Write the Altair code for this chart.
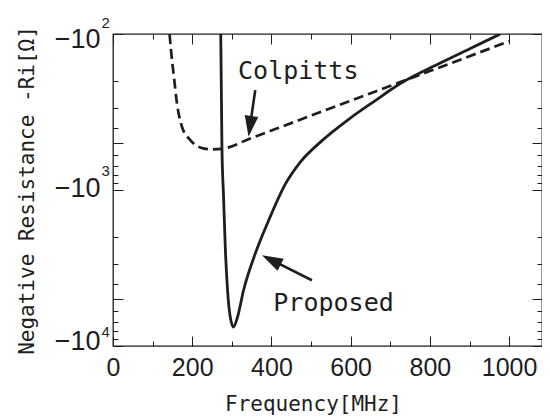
import altair as alt
import pandas as pd

# ---------------- data ----------------
# Proposed oscillator: frequency [MHz] and magnitude of negative resistance |Ri| [Ohm]
prop_f = [272.0, 275.0, 279.1, 283.4, 289.2, 296.0, 304.3, 314.4, 329.6, 356.7,
          392.1, 435.0, 472.9, 523.4, 599.1, 662.2, 725.3, 826.3, 902.0, 977.8]
prop_r = [100, 528.6, 1107, 2316, 4390, 6515, 7552, 6515, 4390, 2658,
          1585, 917.3, 662.7, 493.3, 345.9, 267.1, 207.8, 153.5, 123.9, 100]

# Colpitts oscillator
colp_f = [142.8, 146.4, 154.7, 161.5, 174.1, 195.1, 220.3, 249.8, 278.3,
          346.5, 472.6, 598.8, 725.0, 851.2, 1000]
colp_r = [100, 126.7, 197.3, 278.4, 393.3, 478.7, 533.4, 549.5, 542.9,
          467.7, 354.2, 268.8, 203.5, 154.4, 111.4]

# annotation labels (data coordinates)
ann_text = ["Colpitts", "Proposed"]
ann_f = [467.6, 556.7]
ann_r = [194.4, 5963]

# arrows: tail -> near tip (shaft) and tip
arr_tail_f = [359.1, 502.1]
arr_tail_r = [228.8, 3789]
arr_end_f = [345.6, 398.4]
arr_end_r = [393.9, 2798]
arr_tip_f = [342.2, 376.0]
arr_tip_r = [456.0, 2618]

# axis tick values
x_major = [0, 200, 400, 600, 800, 1000]
x_minor = [100, 300, 500, 700, 900]
y_long = [100, 500, 1000, 5000, 10000]
y_all = [m * d for d in (100, 1000) for m in range(1, 10)] + [10000]

# ---------------- build ----------------
ink = "#1e1e1e"
num_font = "Liberation Sans, Arial, sans-serif"
mono = "DejaVu Sans Mono, Liberation Mono, monospace"

df_prop = pd.DataFrame({"f": prop_f, "r": prop_r})
df_colp = pd.DataFrame({"f": colp_f, "r": colp_r})
df_ann = pd.DataFrame({"label": ann_text, "f": ann_f, "r": ann_r})
df_arr = pd.DataFrame({"f": arr_tail_f, "r": arr_tail_r, "f2": arr_end_f, "r2": arr_end_r})
df_tip1 = pd.DataFrame({"f": arr_tip_f[:1], "r": arr_tip_r[:1]})
df_tip2 = pd.DataFrame({"f": arr_tip_f[1:], "r": arr_tip_r[1:]})

xs = alt.Scale(domain=[0, 1083], nice=False, zero=False)
ys = alt.Scale(type="log", domain=[100, 10000], reverse=True, nice=False)

tick_common = dict(domain=False, grid=False, tickColor=ink, tickWidth=1, title=None)

ax_x_main = alt.Axis(orient="bottom", values=x_major, offset=-10, tickSize=10,
                     domain=False, grid=False, tickColor=ink, tickWidth=1,
                     labelFont=num_font, labelFontSize=25, labelColor=ink,
                     labelPadding=9, labelFlush=False, labelOverlap=False, format="d",
                     title="Frequency[MHz]", titleFont=mono, titleFontSize=21,
                     titleFontWeight="normal", titleColor=ink, titleX=200, titleY=74,
                     titleAlign="center", titleBaseline="alphabetic")
ax_y_main = alt.Axis(orient="left", values=y_long, offset=-10, tickSize=10,
                     domain=False, grid=False, tickColor=ink, tickWidth=1,
                     labelExpr="(datum.value==100||datum.value==1000||datum.value==10000)?'\u221210':''",
                     labelFont=num_font, labelFontSize=27, labelColor=ink,
                     labelPadding=13, labelOverlap=False, labelFlush=False,
                     labelBaseline="middle",
                     labelOffset={"condition": [{"test": "datum.value==100", "value": 5},
                                                {"test": "datum.value==1000", "value": -2}],
                                  "value": -5},
                     title="Negative Resistance -Ri[\u03a9]", titleFont=mono, titleFontSize=21,
                     titleFontWeight="normal", titleColor=ink, titleX=-96, titleY=156,
                     titleAngle=270, titleAlign="center", titleBaseline="middle")

ax_x_minor_b = alt.Axis(orient="bottom", values=x_minor, offset=-5, tickSize=5,
                        labels=False, **tick_common)
ax_y_minor_l = alt.Axis(orient="left", values=y_all, offset=-5, tickSize=5,
                        domain=False, grid=False, tickColor=ink, tickWidth=1, title=None,
                        labelExpr="(datum.value==100)?'2':(datum.value==1000)?'3':(datum.value==10000)?'4':''",
                        labelFont=num_font, labelFontSize=15, labelColor=ink,
                        labelAlign="left", labelBaseline="middle", labelPadding=12,
                        labelOverlap=False, labelFlush=False,
                        labelOffset={"condition": [{"test": "datum.value==100", "value": -12},
                                                   {"test": "datum.value==1000", "value": -20}],
                                     "value": -15})
ax_x_major_t = alt.Axis(orient="top", values=x_major, offset=-10, tickSize=10,
                        labels=False, **tick_common)
ax_y_major_r = alt.Axis(orient="right", values=y_long, offset=-10, tickSize=10,
                        labels=False, **tick_common)
ax_x_minor_t = alt.Axis(orient="top", values=x_minor, offset=-5, tickSize=5,
                        labels=False, **tick_common)
ax_y_minor_r = alt.Axis(orient="right", values=y_all, offset=-5, tickSize=5,
                        labels=False, **tick_common)

proposed = alt.Chart(df_prop).mark_line(
    color=ink, strokeWidth=2.8, interpolate="monotone", clip=True
).encode(
    x=alt.X("f:Q", scale=xs, axis=ax_x_main),
    y=alt.Y("r:Q", scale=ys, axis=ax_y_main),
)

colpitts = alt.Chart(df_colp).mark_line(
    color=ink, strokeWidth=2.7, strokeDash=[10, 5], interpolate="monotone", clip=True
).encode(
    x=alt.X("f:Q", scale=xs, axis=ax_x_minor_b),
    y=alt.Y("r:Q", scale=ys, axis=ax_y_minor_l),
)

labels = alt.Chart(df_ann).mark_text(
    font=mono, fontSize=25, color=ink, align="center", baseline="alphabetic"
).encode(
    x=alt.X("f:Q", scale=xs, axis=ax_x_major_t),
    y=alt.Y("r:Q", scale=ys, axis=ax_y_major_r),
    text="label:N",
)

shafts = alt.Chart(df_arr).mark_rule(color=ink, strokeWidth=2.6).encode(
    x=alt.X("f:Q", scale=xs, axis=ax_x_minor_t),
    y=alt.Y("r:Q", scale=ys, axis=ax_y_minor_r),
    x2="f2:Q",
    y2="r2:Q",
)

head_shape = "M0,0L-0.65,2L0.65,2Z"
head1 = alt.Chart(df_tip1).mark_point(
    shape=head_shape, filled=True, size=441, angle=188, color=ink, opacity=1, strokeWidth=0
).encode(
    x=alt.X("f:Q", scale=xs, axis=None),
    y=alt.Y("r:Q", scale=ys, axis=None),
)
head2 = alt.Chart(df_tip2).mark_point(
    shape=head_shape, filled=True, size=441, angle=297, color=ink, opacity=1, strokeWidth=0
).encode(
    x=alt.X("f:Q", scale=xs, axis=None),
    y=alt.Y("r:Q", scale=ys, axis=None),
)

chart = alt.layer(proposed, colpitts, labels, shafts, head1, head2).resolve_axis(
    x="independent", y="independent"
).properties(
    width=429,
    height=312,
    autosize=alt.AutoSizeParams(type="none"),
    padding={"left": 105, "top": 26, "right": 0, "bottom": 70},
    background="white",
).configure_view(stroke=ink, strokeWidth=1.3)

chart.save("out.html", embed_options={"renderer": "svg", "actions": False})
